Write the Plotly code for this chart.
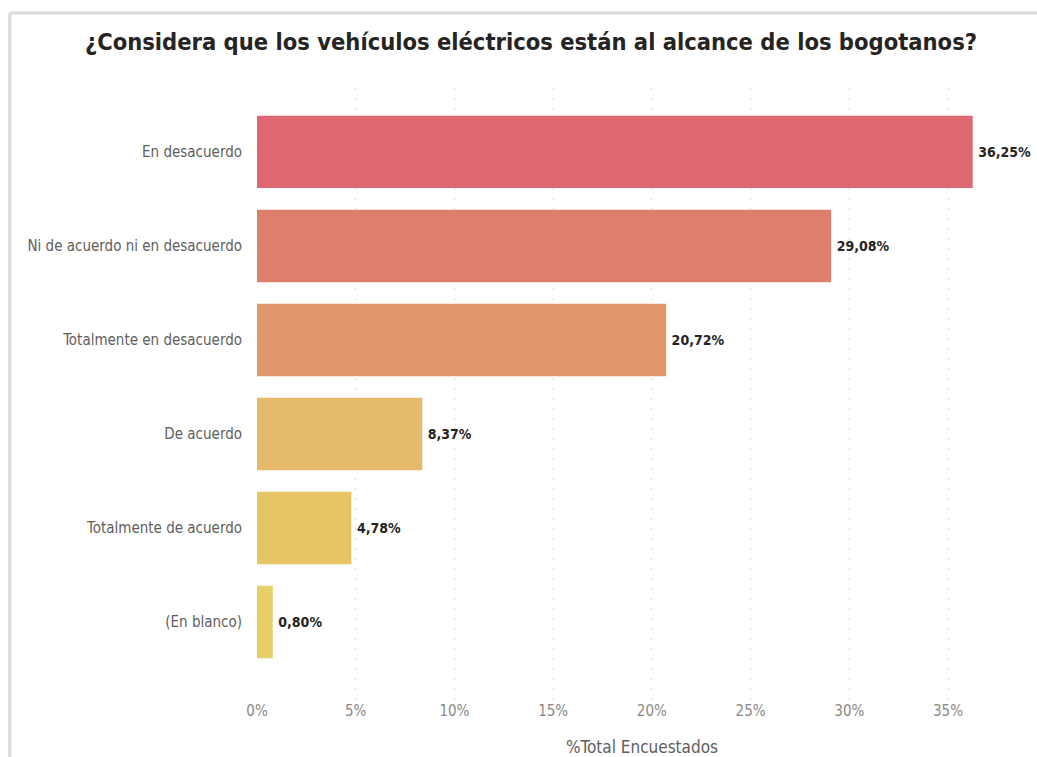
import plotly.graph_objects as go

categories = ["En desacuerdo", "Ni de acuerdo ni en desacuerdo", "Totalmente en desacuerdo",
              "De acuerdo", "Totalmente de acuerdo", "(En blanco)"]
values = [36.25, 29.08, 20.72, 8.37, 4.78, 0.80]
colors = ["#DE6871", "#E07E6E", "#E3976D", "#E5BA6A", "#E6C567", "#E6D067"]
tick_vals = [0, 5, 10, 15, 20, 25, 30, 35]
tick_text = ["0%", "5%", "10%", "15%", "20%", "25%", "30%", "35%"]

FONT = "DejaVu Sans Condensed, sans-serif"

fig = go.Figure()
fig.add_trace(go.Bar(
    y=categories, x=values, orientation="h",
    marker=dict(color=colors, line=dict(width=0)),
    width=0.77,
    texttemplate="\u2009<b>%{x:.2f}%</b>", textposition="outside",
    textfont=dict(family=FONT, size=14, color="#252423"),
    cliponaxis=False,
))

fig.update_layout(
    width=1037, height=757,
    margin=dict(l=257, r=10, t=88, b=57, autoexpand=False),
    paper_bgcolor="white", plot_bgcolor="white",
    separators=",.",
    showlegend=False,
    title=dict(text="<b>¿Considera que los vehículos eléctricos están al alcance de los bogotanos?</b>",
               x=0.512, xanchor="center", y=0.945, yanchor="middle",
               font=dict(family=FONT, size=23.5, color="#252423")),
    xaxis=dict(range=[0, 39], tickvals=tick_vals, ticktext=tick_text,
               showgrid=True, gridcolor="#D6D6D6", griddash="2px,8px", gridwidth=1,
               zeroline=False, showline=False, automargin=False,
               tickfont=dict(family=FONT, size=15, color="#8a8886"),
               title=dict(text="%Total Encuestados", standoff=22,
                          font=dict(family=FONT, size=17, color="#605E5C"))),
    yaxis=dict(categoryorder="array", categoryarray=categories, range=[5.83, -0.68],
               showgrid=False, zeroline=False, showline=False, ticks="", ticklabelstandoff=14,
               automargin=False,
               tickfont=dict(family=FONT, size=15, color="#605E5C")),
    shapes=[
        dict(type="line", xref="paper", yref="paper", x0=-0.321, x1=1.02, y0=1.1225, y1=1.1225,
             line=dict(color="#DADADA", width=3)),
        dict(type="line", xref="paper", yref="paper", x0=-0.321, x1=-0.321, y0=1.1225, y1=-0.1,
             line=dict(color="#DADADA", width=3)),
    ],
)

fig.write_html("out.html")
